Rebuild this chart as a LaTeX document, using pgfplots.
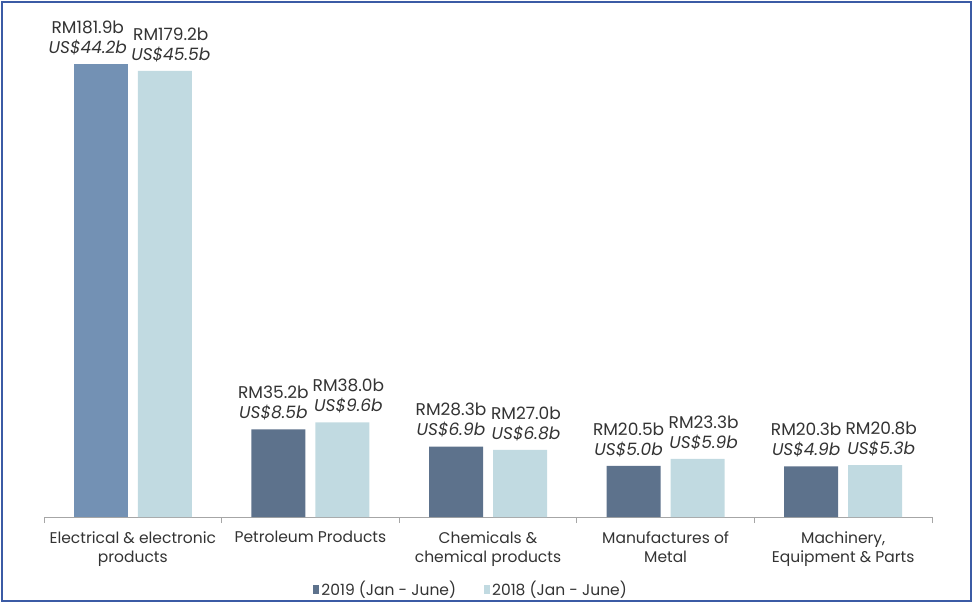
\documentclass[border=0pt]{standalone}
\usepackage{pgfplots}
\pgfplotsset{compat=1.18}
\usepackage{pgfplotstable}
\usepackage{fontspec}
\setmainfont{Poppins}

\definecolor{darkbar}{HTML}{5D728C}
\definecolor{firstbar}{HTML}{7391B4}
\definecolor{lightbar}{HTML}{C1DAE1}
\definecolor{frameblue}{HTML}{3B5BA5}
\definecolor{txt}{HTML}{333333}

% x: category position, rm / us: the two printed values
\pgfplotstableread{
x rm us
0 181.9 44.2
}\firstnineteen
\pgfplotstableread{
x rm us
1 35.2 8.5
2 28.3 6.9
3 20.5 5.0
4 20.3 4.9
}\nineteen
\pgfplotstableread{
x rm us
0 179.2 45.5
1 38.0 9.6
2 27.0 6.8
3 23.3 5.9
4 20.8 5.3
}\eighteen

\begin{document}
\begin{tikzpicture}[x=1pt,y=1pt]
\useasboundingbox (0,0) rectangle (973,603);
\draw[frameblue, line width=2pt] (2,2) rectangle (971,601);
\begin{axis}[
    at={(44pt,86pt)}, anchor=south west,
    scale only axis,
    width=888pt, height=498pt,
    xmin=-0.5, xmax=4.5,
    ymin=0, ymax=200,
    axis x line*=bottom,
    axis y line=none,
    x axis line style={draw=gray!70, line width=0.8pt},
    xtick={0,1,2,3,4},
    major tick length=0pt,
    minor xtick={-0.5,0.5,1.5,2.5,3.5,4.5},
    minor tick length=6pt,
    tick align=outside,
    minor tick style={draw=gray!70, line width=0.8pt},
    xticklabels={{Electrical \& electronic\\products},{Petroleum Products},{Chemicals \&\\chemical products},{Manufactures of\\Metal},{Machinery,\\Equipment \& Parts}},
    xticklabel style={align=center, anchor=north, inner sep=0pt, yshift=-14pt,
        font=\fontsize{15.5}{19}\selectfont, text=txt},
    ybar, bar width=54pt,
    clip=false,
    point meta=y,
    visualization depends on={\thisrow{us} \as \usval},
    nodes near coords={RM\pgfmathprintnumber[fixed,fixed zerofill,precision=1,assume math mode=true]{\pgfplotspointmeta}b\\\textit{US\$\pgfmathprintnumber[fixed,fixed zerofill,precision=1,assume math mode=true]{\usval}b}},
    nodes near coords style={align=center, anchor=south, inner sep=0pt, yshift=9pt,
        font=\fontsize{17}{20}\selectfont, text=txt},
    legend style={at={(0.481,-0.145)}, anchor=center, draw=none, fill=none,
        legend columns=2, font=\fontsize{15.5}{17}\selectfont, text=txt},
    legend image code/.code={\fill[#1] (0pt,-4.5pt) rectangle (6pt,4.5pt);},
]
\addplot[fill=firstbar, draw=none, bar shift=-32pt, forget plot,
    nodes near coords style={xshift=-13pt}] table[x=x, y=rm] {\firstnineteen};
\addplot[fill=darkbar, draw=none, bar shift=-32pt,
    nodes near coords style={xshift=-5pt}] table[x=x, y=rm] {\nineteen};
\addlegendentry{2019 (Jan - June)\kern26pt}
\addplot[fill=lightbar, draw=none, bar shift=32pt,
    nodes near coords style={xshift=6pt}] table[x=x, y=rm] {\eighteen};
\addlegendentry{2018 (Jan - June)}
\end{axis}
\end{tikzpicture}
\end{document}
